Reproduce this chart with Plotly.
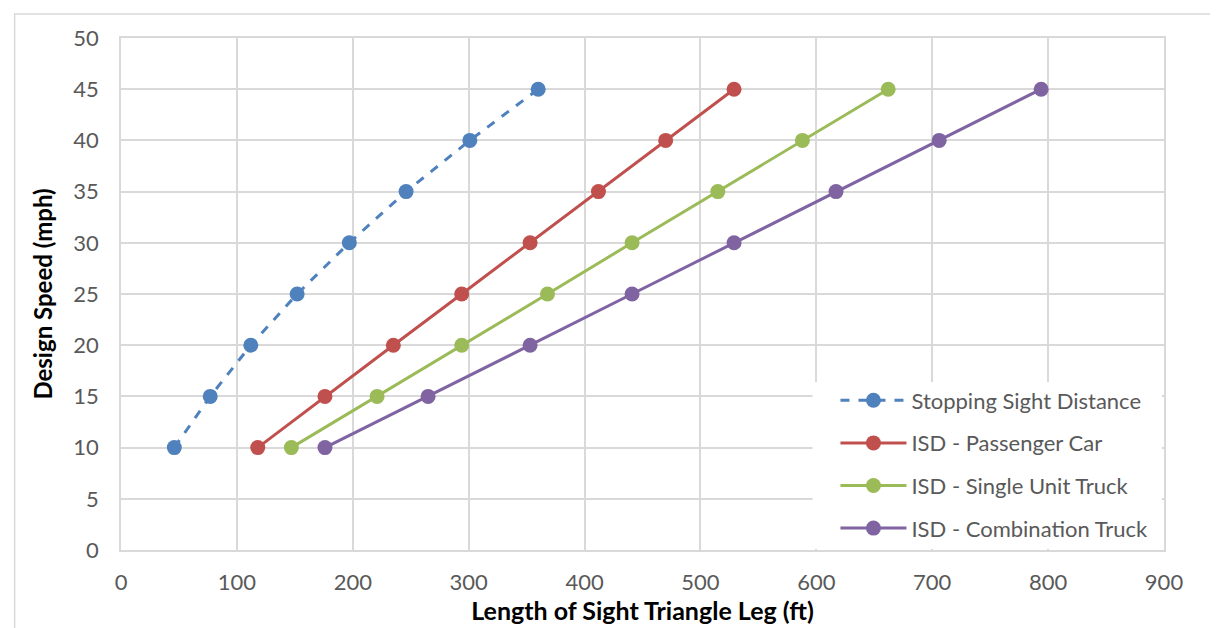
import plotly.graph_objects as go

# design speed (mph)
speeds = [10, 15, 20, 25, 30, 35, 40, 45]

# length of sight triangle leg (ft)
ssd = [46, 77, 112, 152, 197, 246, 301, 360]
isd_car = [118, 176, 235, 294, 353, 412, 470, 529]
isd_single = [147, 221, 294, 368, 441, 515, 588, 662]
isd_combo = [176, 265, 353, 441, 529, 617, 706, 794]

series = [
    ("Stopping Sight Distance", ssd, "#4F81BD", "dash"),
    ("ISD - Passenger Car", isd_car, "#C0504D", "solid"),
    ("ISD - Single Unit Truck", isd_single, "#9BBB59", "solid"),
    ("ISD - Combination Truck", isd_combo, "#8064A2", "solid"),
]

FONT = "Lato, Calibri, 'Open Sans', sans-serif"

fig = go.Figure()
for i, (name, xs, col, dash) in enumerate(series):
    fig.add_trace(go.Scatter(
        x=xs, y=speeds, name=name, mode="lines+markers",
        legendgroup=f"g{i}",
        line=dict(color=col, width=3, dash=dash),
        marker=dict(color=col, size=15),
    ))

# page body has an 8px margin, so the plot box is shifted up/left by 8
fig.update_layout(
    width=1218, height=628,
    paper_bgcolor="white", plot_bgcolor="white",
    margin=dict(l=113, r=62, t=30, b=86, autoexpand=False),
    font=dict(family=FONT, size=17, color="#595959"),
    showlegend=True,
    legend=dict(
        x=0.685, y=0.333, xanchor="left", yanchor="top",
        bgcolor="rgba(0,0,0,0)", borderwidth=0,
        font=dict(size=22, color="#595959"),
        tracegroupgap=11, traceorder="grouped", itemwidth=66,
    ),
    xaxis=dict(
        range=[0, 900], dtick=100, showgrid=True, gridcolor="#D9D9D9", gridwidth=1.5,
        zeroline=False, showline=True, linecolor="#D9D9D9", linewidth=1.5, mirror=True,
        ticks="", automargin=False, ticklabelstandoff=12,
        tickfont=dict(size=22, color="#595959"),
        title=dict(text="<b>Length of Sight Triangle Leg (ft)</b>",
                   font=dict(size=25, color="black"), standoff=3),
    ),
    yaxis=dict(
        range=[0, 50], dtick=5, showgrid=True, gridcolor="#D9D9D9", gridwidth=1.5,
        zeroline=False, showline=True, linecolor="#D9D9D9", linewidth=1.5, mirror=True,
        ticks="", automargin=False, ticklabelstandoff=16,
        tickfont=dict(size=22, color="#595959"),
        title=dict(text="<b>Design Speed (mph)</b>",
                   font=dict(size=24, color="black"), standoff=14),
    ),
)

# white box behind the legend
fig.add_shape(type="rect", xref="paper", yref="paper",
              x0=0.663, x1=0.998, y0=0.002, y1=0.328,
              fillcolor="white", line=dict(width=0), layer="above")

# outer chart-area border
fig.add_shape(type="rect", xref="paper", yref="paper",
              x0=-0.102, x1=1.3, y0=-0.3, y1=1.047,
              line=dict(color="#D9D9D9", width=1.5), layer="below")

fig.write_html("out.html")
